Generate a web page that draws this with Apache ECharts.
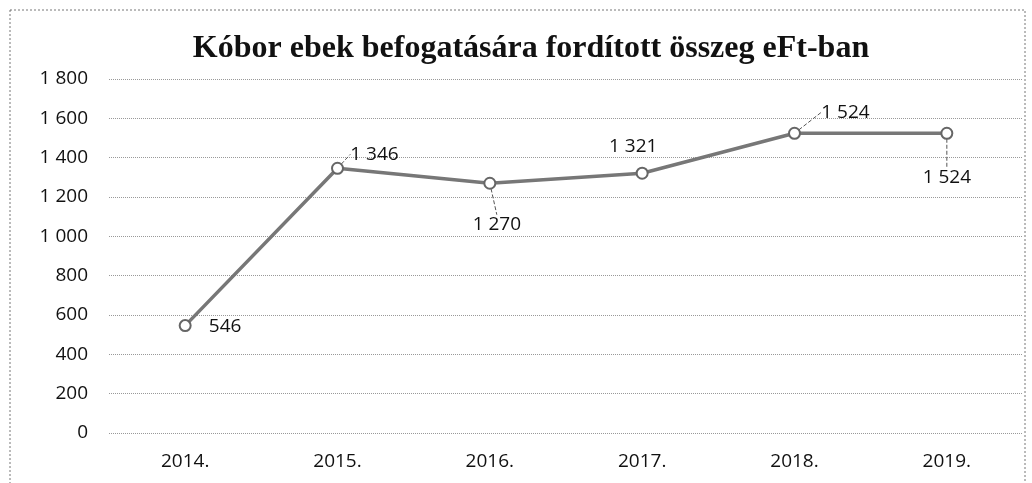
<!DOCTYPE html>
<html>
<head>
<meta charset="utf-8">
<script src="https://cdn.jsdelivr.net/npm/echarts@6/dist/echarts.min.js"></script>
<style>
  html, body { margin: 0; padding: 0; background: #fff; }
  #chart { width: 1032px; height: 483px; }
</style>
</head>
<body>
<div id="chart"></div>
<script>
const years = ['2014.', '2015.', '2016.', '2017.', '2018.', '2019.'];
const costs = [546, 1346, 1270, 1321, 1524, 1524];
// label shift per point (dx, dy) and whether a leader line is shown
const labelShift = [[40, 1], [37, -14], [7, 41], [-9, -27], [51, -21], [0, 44]];
const labelLeader = [false, true, true, false, true, true];

const fmt = (v) => String(v).replace(/\B(?=(\d{3})+(?!\d))/g, ' ');

const chart = echarts.init(document.getElementById('chart'));
chart.setOption({
  animation: false,
  textStyle: { fontFamily: 'Open Sans' },
  title: {
    text: 'Kóbor ebek befogatására fordított összeg eFt-ban',
    left: 526,
    textAlign: 'center',
    top: 28,
    textStyle: {
      fontFamily: 'Liberation Serif',
      fontWeight: 'bold',
      fontSize: 32,
      color: '#111'
    }
  },
  graphic: [{
    type: 'rect',
    shape: { x: 10, y: 10, width: 1015, height: 480 },
    style: { fill: 'none', stroke: '#777', lineWidth: 1, lineDash: [2, 2] },
    silent: true
  }],
  grid: { left: 109, right: 9, top: 79, bottom: 50 },
  xAxis: {
    type: 'category',
    data: years,
    boundaryGap: true,
    axisLine: { show: false },
    axisTick: { show: false },
    axisLabel: { color: '#111', fontSize: 19, margin: 19 }
  },
  yAxis: {
    type: 'value',
    min: 0,
    max: 1800,
    interval: 200,
    axisLine: { show: false },
    axisTick: { show: false },
    axisLabel: { color: '#111', fontSize: 19, margin: 21, formatter: fmt },
    splitLine: { lineStyle: { color: '#999', type: 'dotted', width: 1 } }
  },
  series: [{
    type: 'line',
    data: costs.map((v, i) => ({
      value: v,
      labelLine: { show: labelLeader[i] }
    })),
    symbol: 'circle',
    symbolSize: 11,
    itemStyle: { color: '#fff', borderColor: '#666', borderWidth: 2 },
    lineStyle: { color: '#777', width: 3.5 },
    label: {
      show: true,
      position: 'inside',
      color: '#111',
      fontSize: 19,
      formatter: (p) => fmt(p.value)
    },
    labelLine: { lineStyle: { color: '#555', width: 1, type: 'dashed' } },
    labelLayout: (p) => ({ dx: labelShift[p.dataIndex][0], dy: labelShift[p.dataIndex][1] })
  }]
});
</script>
</body>
</html>
